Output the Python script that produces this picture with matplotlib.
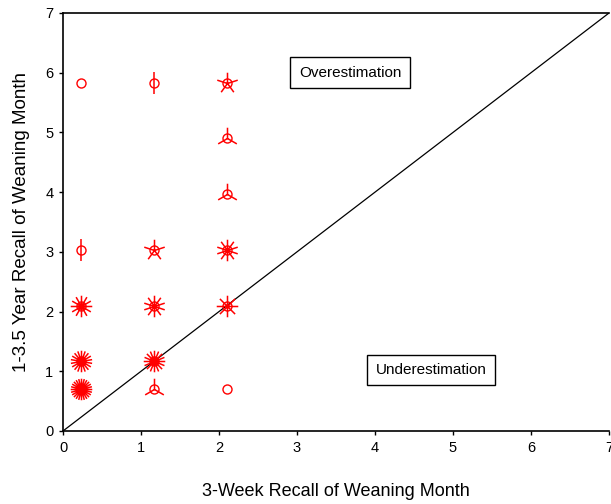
import numpy as np
import matplotlib
matplotlib.use("Agg")
import matplotlib.pyplot as plt
from matplotlib.path import Path

plt.rcParams['font.family'] = ['Liberation Sans', 'DejaVu Sans']

# 3-week recall (x), 1-3.5 year recall (y), number of observations (petals)
x_vals = [0.233, 1.167, 2.1,
          2.1, 2.1,
          0.233, 1.167, 2.1,
          0.233, 1.167, 2.1,
          0.233, 1.167,
          0.233, 1.167, 2.1]
y_vals = [5.833, 5.833, 5.833,
          4.9, 3.967,
          3.033, 3.033, 3.033,
          2.1, 2.1, 2.1,
          1.167, 1.167,
          0.7, 0.7, 0.7]
counts = [1, 2, 5,
          3, 3,
          2, 5, 10,
          12, 10, 8,
          18, 16,
          24, 3, 1]

x_ticks = [0, 1, 2, 3, 4, 5, 6, 7]
y_ticks = [0, 1, 2, 3, 4, 5, 6, 7]

fig = plt.figure(figsize=(6.11, 5.04), dpi=100)
ax = fig.add_axes([63/611, 1 - 431/504, (609-63)/611, (431-13)/504])
ax.set_xlim(0, 7)
ax.set_ylim(0, 7)

def petal_marker(n):
    verts = []
    codes = []
    for k in range(n):
        a = np.pi/2 + 2*np.pi*k/n
        verts += [(0, 0), (np.cos(a), np.sin(a))]
        codes += [Path.MOVETO, Path.LINETO]
    verts += [(1, 0), (-1, 0), (0, 1), (0, -1)]
    codes += [Path.MOVETO, Path.MOVETO, Path.MOVETO, Path.MOVETO]
    return Path(verts, codes)

for x, y, c in zip(x_vals, y_vals, counts):
    ax.plot([x], [y], marker='o', ms=6.5, mfc='none', mec='#ff0000', mew=1.0, ls='none', zorder=3)
    if c > 1:
        ax.plot([x], [y], marker=petal_marker(c), ms=15.5, mfc='none', mec='#ff0000', mew=1.1,
                ls='none', zorder=3)

ax.plot([0, 7], [0, 7], color='black', lw=0.9, zorder=2)

ax.text(3.68, 6.0, 'Overestimation', ha='center', va='center', fontsize=11,
        bbox=dict(boxstyle='square,pad=0.55', fc='white', ec='black', lw=1.0), zorder=4)
ax.text(4.72, 1.02, 'Underestimation', ha='center', va='center', fontsize=11,
        bbox=dict(boxstyle='square,pad=0.55', fc='white', ec='black', lw=1.0), zorder=4)

ax.set_xticks(x_ticks)
ax.set_yticks(y_ticks)
ax.tick_params(direction='out', length=3, width=1, labelsize=10.5, pad=4)
for s in ['left', 'bottom', 'top']:
    ax.spines[s].set_linewidth(1.2)
ax.spines['right'].set_visible(False)

ax.set_xlabel('3-Week Recall of Weaning Month', fontsize=13, labelpad=20)
ax.set_ylabel('1-3.5 Year Recall of Weaning Month', fontsize=13.5, labelpad=11)

fig.savefig('out.png', dpi=100)
